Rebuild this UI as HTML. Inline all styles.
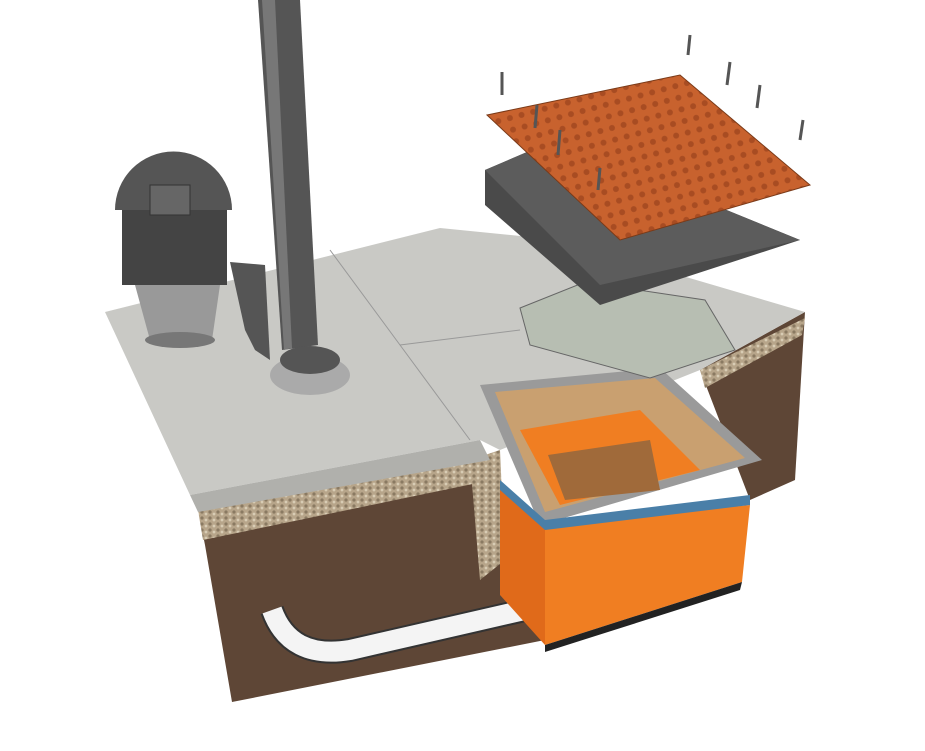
<!DOCTYPE html>
<html><head><meta charset="utf-8"><style>
html,body{margin:0;padding:0;background:#fff;width:925px;height:751px;overflow:hidden}
</style></head><body>
<svg width="925" height="751" viewBox="0 0 925 751" xmlns="http://www.w3.org/2000/svg">
<defs>
<pattern id="dots" width="12" height="12" patternUnits="userSpaceOnUse" patternTransform="rotate(-15)">
<rect width="12" height="12" fill="#c8622e"/><circle cx="6" cy="6" r="3" fill="#a84c22"/></pattern>
<pattern id="grav" width="8" height="6" patternUnits="userSpaceOnUse">
<rect width="8" height="6" fill="#b7a58a"/><circle cx="2" cy="2" r="1.6" fill="#8a7a62"/><circle cx="6" cy="4" r="1.4" fill="#d8ccb4"/></pattern>
</defs>
<!-- soil front -->
<polygon points="200,520 490,470 545,640 232,702 205,545" fill="#5e4636"/>
<polygon points="700,370 805,312 795,480 750,500" fill="#5e4636"/>
<!-- gravel -->
<polygon points="198,510 490,460 492,480 203,540" fill="url(#grav)"/>
<polygon points="470,460 500,450 505,560 480,580" fill="url(#grav)"/>
<polygon points="700,370 805,318 802,335 705,388" fill="url(#grav)"/>
<!-- slab top -->
<polygon points="105,312 440,228 560,240 805,312 700,370 500,450 480,440 190,495" fill="#c9c9c5"/>
<polygon points="190,495 480,440 490,460 198,512" fill="#b0b0ac"/>
<polyline points="330,250 400,345 470,440" fill="none" stroke="#999" stroke-width="1"/>
<polyline points="400,345 520,330" fill="none" stroke="#999" stroke-width="1"/>
<!-- pipe -->
<path d="M555,603 L350,650 Q290,660 272,610" fill="none" stroke="#333" stroke-width="24"/>
<path d="M555,603 L350,650 Q290,660 272,610" fill="none" stroke="#f4f4f4" stroke-width="20"/>
<!-- orange box -->
<polygon points="500,485 545,525 545,645 500,595" fill="#e06a1a"/>
<polygon points="545,525 750,505 742,582 545,645" fill="#f07e22"/>
<polygon points="545,645 742,582 740,590 545,652" fill="#222"/>
<!-- frame -->
<polygon points="480,385 660,368 762,460 540,525" fill="#9a9a9a"/>
<polygon points="495,392 655,378 745,458 545,512" fill="#c9a070"/>
<polygon points="520,430 640,410 700,470 560,505" fill="#f07e22"/>
<polygon points="548,455 650,440 660,490 565,500" fill="#a06a3a"/>
<polygon points="500,480 545,520 750,495 750,505 545,530 500,490" fill="#4a7fa8"/>
<!-- lid -->
<polygon points="520,308 585,282 705,300 735,350 650,378 530,345" fill="#b7beb2" stroke="#666"/>
<!-- dark slab -->
<polygon points="485,170 555,140 800,240 600,305 485,205" fill="#4a4a4a"/>
<polygon points="485,170 555,140 800,240 600,285" fill="#5c5c5c"/>
<!-- orange tile -->
<polygon points="487,115 680,75 810,185 620,240" fill="url(#dots)" stroke="#7a3a18"/>
<!-- bolts -->
<g stroke="#555" stroke-width="3">
<line x1="690" y1="35" x2="688" y2="55"/><line x1="730" y1="62" x2="727" y2="85"/>
<line x1="760" y1="85" x2="757" y2="108"/><line x1="803" y1="120" x2="800" y2="140"/>
<line x1="502" y1="72" x2="502" y2="95"/><line x1="537" y1="105" x2="535" y2="128"/>
<line x1="560" y1="130" x2="558" y2="155"/><line x1="600" y1="168" x2="598" y2="190"/>
</g>
<!-- pole -->
<polygon points="258,0 300,0 318,345 282,350" fill="#555"/>
<polygon points="262,0 275,0 292,348 284,350" fill="#777"/>
<ellipse cx="310" cy="375" rx="40" ry="20" fill="#aaa"/>
<ellipse cx="310" cy="360" rx="30" ry="14" fill="#555"/>
<!-- trash can -->
<rect x="122" y="210" width="105" height="75" fill="#444"/>
<path d="M115,210 A55,55 0 0 1 232,210 Z" fill="#555"/>
<rect x="150" y="185" width="40" height="30" fill="#666" stroke="#333"/>
<polygon points="135,285 220,285 212,340 150,340" fill="#999"/>
<ellipse cx="180" cy="340" rx="35" ry="8" fill="#777"/>
<path d="M230,262 L265,265 L270,360 L255,350 L245,330 Z" fill="#555"/>
</svg>
</body></html>
